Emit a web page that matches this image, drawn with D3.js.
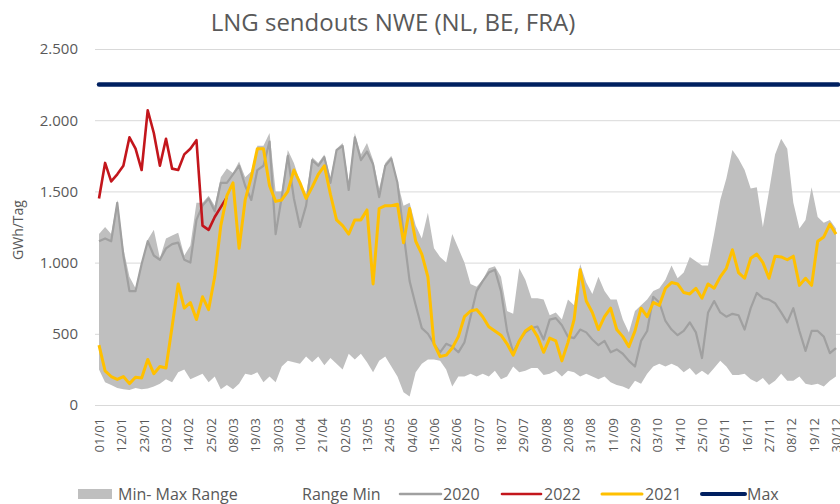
<!DOCTYPE html>
<html><head><meta charset="utf-8">
<script src="https://cdn.jsdelivr.net/npm/d3@7"></script>
<style>
body{margin:0;background:#fff}
svg{display:block}
text{font-family:'Open Sans',sans-serif;fill:#595959}
</style>
</head><body>
<svg id="c" width="840" height="504"></svg>
<script>
// ---- data (GWh/Tag), sampled every 3 days from 01/01 ----
const dayStep = 3;
const days = d3.range(0, 364, dayStep);

const rangeMin = [250,160,140,120,110,105,120,110,115,130,150,180,160,230,250,180,200,220,160,200,110,140,110,150,220,
  210,230,160,200,160,270,310,300,290,340,300,340,280,330,290,250,360,320,360,300,230,310,340,
  270,200,90,60,230,290,320,320,310,250,130,200,200,220,200,220,200,240,180,200,270,230,240,260,
  260,210,220,240,200,240,230,200,220,200,180,200,160,140,130,110,170,150,220,270,290,270,290,270,
  230,260,210,240,210,260,310,270,210,210,220,180,160,190,140,170,220,170,170,200,150,140,150,130,170,200];

const rangeMax = [1200,1250,1200,1440,1100,900,820,1000,1160,1230,1030,1170,1190,1210,1050,1120,1420,1420,1470,1400,1600,1660,1630,1710,1600,
  1640,1820,1820,1910,1500,1500,1790,1700,1570,1480,1740,1700,1760,1600,1800,1840,1560,1910,1760,1840,1720,1520,1700,
  1750,1570,1400,1420,1260,1170,1350,1100,1040,1000,1200,1100,1000,850,830,880,960,975,900,660,640,960,880,750,
  750,740,630,650,600,740,700,990,860,780,900,800,740,740,600,510,660,700,740,800,820,880,980,890,
  930,1040,1010,980,980,1200,1440,1590,1790,1730,1650,1520,1530,1250,1500,1760,1870,1800,1420,1240,1300,1530,1320,1280,1300,1240];

const y2020 = [1150,1170,1150,1420,1050,800,800,990,1150,1050,1020,1100,1130,1140,1020,1000,1300,1400,1450,1360,1560,1560,1620,1680,1540,
  1440,1650,1680,1850,1200,1460,1750,1450,1250,1400,1720,1680,1740,1560,1790,1820,1510,1880,1720,1780,1690,1460,1680,
  1730,1560,1210,870,700,540,500,430,370,430,410,370,440,620,800,870,930,950,800,520,370,450,510,540,
  550,460,600,610,560,480,470,530,510,460,420,450,370,390,360,310,270,450,520,760,720,590,530,490,
  520,580,510,330,650,730,650,620,640,630,530,680,787,750,740,715,650,580,680,520,380,520,520,480,364,400];

const y2021 = [420,240,200,180,200,150,195,190,320,220,270,260,550,850,680,720,600,760,670,900,1260,1470,1560,1100,1440,
  1600,1800,1800,1540,1430,1440,1500,1650,1560,1450,1530,1620,1680,1480,1300,1260,1200,1300,1300,1370,850,1380,1400,
  1400,1410,1140,1380,1150,1060,900,430,340,350,400,480,620,660,670,620,550,520,490,430,350,450,520,550,
  480,370,470,450,310,440,600,950,730,650,530,620,680,530,480,410,520,680,620,720,700,820,860,850,
  790,780,820,750,850,820,900,960,1090,930,890,1030,1060,1000,890,1045,1040,1020,1045,840,890,840,1150,1180,1270,1200];

const y2022 = [1450,1700,1570,1620,1680,1880,1800,1650,2070,1910,1680,1870,1660,1650,1760,1800,1860,1260,1230,1320,1390,1460];

const maxValue = 2250;

const tickLabels = ["01/01","12/01","23/01","03/02","14/02","25/02","08/03","19/03","30/03","10/04","21/04","02/05",
  "13/05","24/05","04/06","15/06","26/06","07/07","18/07","29/07","09/08","20/08","31/08","11/09","22/09","03/10",
  "14/10","25/10","05/11","16/11","27/11","08/12","19/12","30/12"];
const tickDays = tickLabels.map((_, i) => i * 11);
const yTicks = [0, 500, 1000, 1500, 2000, 2500];

// ---- chart ----
const svg = d3.select("#c");
const x = d3.scaleLinear().domain([0, 364]).range([99, 838]);
const y = d3.scaleLinear().domain([0, 2500]).range([405, 49]);
const de = d3.formatLocale({decimal: ",", thousands: ".", grouping: [3], currency: ["", "€"]});
const fmt = de.format(",");

// gridlines + y labels
const ya = svg.append("g").attr("transform", "translate(95,0)")
  .call(d3.axisLeft(y).tickValues(yTicks).tickFormat(fmt).tickSize(-(845 - 95)).tickPadding(17));
ya.select(".domain").remove();
ya.selectAll(".tick line").attr("stroke", "#d9d9d9").attr("stroke-width", 1);
ya.selectAll(".tick text").attr("font-size", 15).attr("fill", "#595959").style("font-family", "'Open Sans',sans-serif");

// x labels
const xa = svg.append("g").attr("transform", "translate(0,405)")
  .call(d3.axisBottom(x).tickValues(tickDays).tickFormat((d, i) => tickLabels[i]).tickSize(0));
xa.select(".domain").remove();
xa.selectAll(".tick text")
  .attr("font-size", 13).attr("fill", "#595959").style("font-family", "'Open Sans',sans-serif")
  .attr("text-anchor", "end").attr("transform", "translate(0,13) rotate(-90)")
  .attr("x", 0).attr("y", 0).attr("dy", "0.35em");

const pts = days.map((d, i) => ({d, lo: rangeMin[i], hi: rangeMax[i], a: y2020[i], b: y2021[i]}));

// band
svg.append("path").datum(pts)
  .attr("fill", "#bfbfbf")
  .attr("d", d3.area().x(p => x(p.d)).y0(p => y(p.lo)).y1(p => y(p.hi)));

const line = (acc) => d3.line().x(p => x(p.d)).y(acc).curve(d3.curveLinear);

svg.append("path").datum(pts).attr("fill", "none").attr("stroke", "#a0a0a0").attr("stroke-width", 2.2)
  .attr("stroke-linejoin", "round").attr("d", line(p => y(p.a)));

const p22 = y2022.map((v, i) => ({d: days[i], v}));
svg.append("path").datum(p22).attr("fill", "none").attr("stroke", "#c3161c").attr("stroke-width", 2.6)
  .attr("stroke-linejoin", "round").attr("d", line(p => y(p.v)));

svg.append("path").datum(pts).attr("fill", "none").attr("stroke", "#ffc000").attr("stroke-width", 3)
  .attr("stroke-linejoin", "round").attr("d", line(p => y(p.b)));

svg.append("path").datum([{d: 0}, {d: 364}]).attr("fill", "none").attr("stroke", "#002060").attr("stroke-width", 4.5)
  .attr("stroke-linecap", "round").attr("d", line(() => y(maxValue)));

// title
svg.append("text").attr("x", 393).attr("y", 31).attr("text-anchor", "middle")
  .attr("font-size", 24).text("LNG sendouts NWE (NL, BE, FRA)");

// y axis title
svg.append("text").attr("transform", "translate(23,230) rotate(-90)").attr("text-anchor", "middle")
  .attr("font-size", 14).text("GWh/Tag");

// legend
const lg = svg.append("g").attr("font-size", 16);
lg.append("rect").attr("x", 78).attr("y", 489).attr("width", 34).attr("height", 10).attr("fill", "#bfbfbf");
lg.append("text").attr("x", 118).attr("y", 500).text("Min- Max Range");
lg.append("text").attr("x", 302).attr("y", 500).text("Range Min");
const legLines = [
  {x1: 400, x2: 441, c: "#a0a0a0", w: 2.5, t: "2020", tx: 443},
  {x1: 502, x2: 541, c: "#c3161c", w: 2.6, t: "2022", tx: 544},
  {x1: 602, x2: 642, c: "#ffc000", w: 3, t: "2021", tx: 645},
  {x1: 702, x2: 745, c: "#002060", w: 4, t: "Max", tx: 747}
];
legLines.forEach(l => {
  lg.append("line").attr("x1", l.x1).attr("x2", l.x2).attr("y1", 494).attr("y2", 494)
    .attr("stroke", l.c).attr("stroke-width", l.w).attr("stroke-linecap", "round");
  lg.append("text").attr("x", l.tx).attr("y", 500).text(l.t);
});
</script>
</body></html>
